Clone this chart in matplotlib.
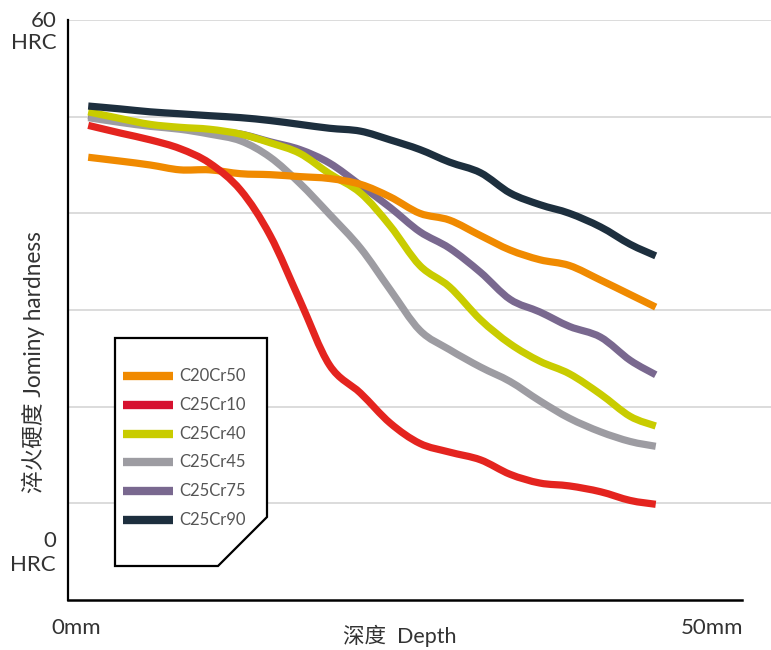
"""Jominy hardness curves for six steel grades."""

import matplotlib.pyplot as plt
import numpy as np
from matplotlib.lines import Line2D
from matplotlib.patches import PathPatch, Polygon
from matplotlib.path import Path

plt.rcParams["font.family"] = ["Lato", "Noto Sans CJK SC", "DejaVu Sans"]

# ── Data ───────────────────────────────────────────────────────────────────
depth_mm = [1.5, 3.9, 6.1, 8.3, 10.5, 12.8, 15.0, 17.2, 19.4, 21.7,
            23.9, 26.1, 28.3, 30.6, 32.8, 35.0, 37.2, 39.5, 41.7, 43.6]

c20cr50 = [45.8, 45.4, 45.0, 44.5, 44.5, 44.1, 44.0, 43.8, 43.6, 43.0,
           41.7, 40.0, 39.3, 37.7, 36.2, 35.2, 34.6, 33.1, 31.6, 30.3]
c25cr10 = [49.1, 48.3, 47.6, 46.7, 45.2, 42.4, 37.7, 31.0, 24.3, 21.4,
           18.3, 16.2, 15.3, 14.5, 13.0, 12.1, 11.8, 11.2, 10.3, 9.9]
c25cr40 = [50.5, 49.8, 49.2, 48.9, 48.7, 48.2, 47.3, 46.2, 44.1, 42.1,
           38.7, 34.6, 32.4, 29.0, 26.5, 24.7, 23.4, 21.3, 19.0, 18.0]
c25cr45 = [49.9, 49.4, 49.0, 48.7, 48.2, 47.5, 45.8, 43.1, 39.9, 36.4,
           32.1, 27.9, 25.9, 24.1, 22.6, 20.6, 18.8, 17.4, 16.4, 15.9]
c25cr75 = [50.1, 49.5, 49.1, 48.8, 48.5, 48.2, 47.4, 46.6, 45.2, 42.9,
           40.6, 38.1, 36.4, 33.9, 31.1, 29.8, 28.3, 27.2, 24.8, 23.3]
c25cr90 = [51.1, 50.8, 50.5, 50.3, 50.1, 49.9, 49.6, 49.2, 48.8, 48.5,
           47.6, 46.6, 45.3, 44.2, 42.1, 40.9, 40.0, 38.6, 36.8, 35.6]

labels = ["C20Cr50", "C25Cr10", "C25Cr40", "C25Cr45", "C25Cr75", "C25Cr90"]
series = [c20cr50, c25cr10, c25cr40, c25cr45, c25cr75, c25cr90]
line_colors = ["#F08A00", "#E4241F", "#C9CC00", "#9D9CA2", "#79688F", "#1D2F3E"]
legend_colors = ["#F08A00", "#D6112F", "#C9CC00", "#9D9CA2", "#79688F", "#1D2F3E"]
# draw order, bottom to top
zorder = {"C25Cr75": 2, "C25Cr45": 3, "C25Cr40": 4, "C20Cr50": 5,
          "C25Cr10": 6, "C25Cr90": 7}

W, H = 771, 650
TEXT = "#333333"


def smooth_path(x, y):
    """Catmull-Rom through the points, as cubic Bezier segments."""
    pts = np.column_stack([x, y]).astype(float)
    n = len(pts)
    verts, codes = [pts[0]], [Path.MOVETO]
    for i in range(n - 1):
        p0, p1 = pts[max(i - 1, 0)], pts[i]
        p2, p3 = pts[i + 1], pts[min(i + 2, n - 1)]
        verts += [p1 + (p2 - p0) / 6, p2 - (p3 - p1) / 6, p2]
        codes += [Path.CURVE4] * 3
    return Path(verts, codes)


def fx(px):
    return px / W


def fy(py):
    return 1 - py / H


fig = plt.figure(figsize=(W / 100, H / 100), dpi=100)
ax = fig.add_axes([fx(68), fy(600), 1 - fx(68), fy(20) - fy(600)])
ax.set_xlim(0, (771 - 68) / 13.48)
ax.set_ylim(0, 60)

for lab, vals, col in zip(labels, series, line_colors):
    ax.add_patch(PathPatch(smooth_path(depth_mm, vals), fill=False,
                           edgecolor=col, lw=5.2, capstyle="butt",
                           joinstyle="round", zorder=zorder[lab]))

ax.set_yticks([10, 20, 30, 40, 50, 60])
ax.set_xticks([])
ax.tick_params(axis="y", length=0, labelleft=False)
ax.grid(axis="y", color="#DCDCDC", lw=1.4)
ax.set_axisbelow(True)
for side in ["top", "right"]:
    ax.spines[side].set_visible(False)
ax.spines["left"].set_linewidth(1.6)
ax.spines["bottom"].set_linewidth(1.8)
ax.spines["bottom"].set_bounds(0, 50)
ax.patch.set_visible(False)

# ── Axis texts ─────────────────────────────────────────────────────────────
kw = dict(color=TEXT, fontsize=16)
fig.text(fx(57), fy(27), "60", ha="right", va="baseline", **kw)
fig.text(fx(57), fy(49), "HRC", ha="right", va="baseline", **kw)
fig.text(fx(56), fy(547), "0", ha="right", va="baseline", **kw)
fig.text(fx(56), fy(571), "HRC", ha="right", va="baseline", **kw)
fig.text(fx(51), fy(634), "0mm", ha="left", va="baseline", **kw)
fig.text(fx(743), fy(634), "50mm", ha="right", va="baseline", **kw)
fig.text(fx(400), fy(643), "深度  Depth", ha="center", va="baseline",
         color=TEXT, fontsize=15.5)
fig.text(fx(33), fy(362), "淬火硬度 Jominy hardness", ha="center", va="center",
         rotation=90, color=TEXT, fontsize=16.3)

# ── Legend box with cut corner ─────────────────────────────────────────────
box = [(115, 338), (267, 338), (267, 517), (218, 566), (115, 566)]
fig.add_artist(Polygon([(fx(a), fy(b)) for a, b in box], closed=True,
                       facecolor="white", edgecolor="black", lw=1.6,
                       transform=fig.transFigure, zorder=10))
for i, (lab, col) in enumerate(zip(labels, legend_colors)):
    yy = 376 + i * 28.8
    fig.add_artist(Line2D([fx(123), fx(173)], [fy(yy), fy(yy)], color=col,
                          lw=6, solid_capstyle="butt",
                          transform=fig.transFigure, zorder=11))
    fig.text(fx(179), fy(yy), lab, ha="left", va="center", color="#555555",
             fontsize=12, zorder=11)

fig.savefig("out.png", dpi=100)
